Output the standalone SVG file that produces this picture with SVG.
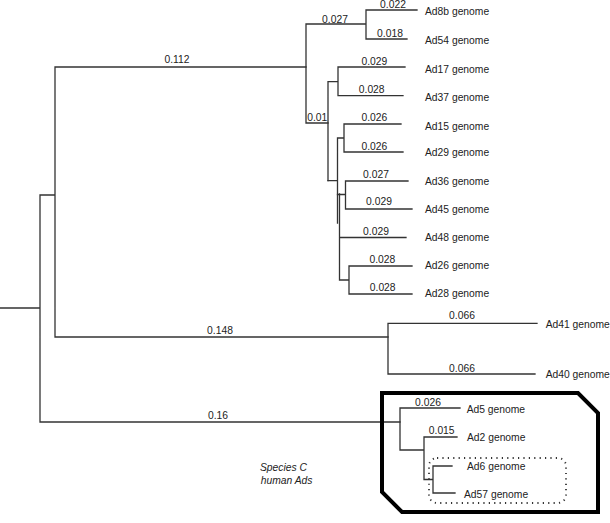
<svg xmlns="http://www.w3.org/2000/svg" width="610" height="523" viewBox="0 0 610 523">
<style>
.e{fill:none;stroke:#333;stroke-width:1.3;stroke-linecap:square}
text{font-family:"Liberation Sans",Arial,sans-serif;font-size:10.3px;fill:#222}
.n{text-anchor:middle}
.it{font-style:italic}
</style>
<rect width="610" height="523" fill="#fff"/>
<g id="connectors" class="e">
<path d="M0,308H40M40,195V422M40,195H55M55,67V337M55,67H306M55,337H388M40,422H400"/>
<path d="M306,24V123M306,24H366M306,123H328M366,10V39M366,10H417M366,39H407"/>
<path d="M328,81.7V180.7M328,81.7H338M338,67V95.7M338,67H405M338,95.7H403"/>
<path d="M328,180.7H337.5M337.5,138V223M337.5,138H344M344,124V152M344,124H401M344,152H403"/>
<path d="M337.5,194.5H345.5M345.5,181V209M345.5,181H408M345.5,209H412"/>
<path d="M339.5,194V280M339.5,237.5H406M339.5,280H349M349,266V294M349,266H412M349,294H412"/>
<path d="M388,323.3V374M388,323.3H537M388,374H535"/>
<path d="M400,408V450M400,408H460M400,450H424M424,437V479.5M424,437H457M424,479.5H433M433,466V493M433,466H452M433,493H455"/>
</g>
<g id="speciesC-box">
<path d="M382,393H578L598,413V512H402L382,492Z" fill="none" stroke="#000" stroke-width="4" stroke-linejoin="miter"/>
<rect x="429" y="458" width="137" height="45" rx="8" fill="none" stroke="#333" stroke-width="1.8" stroke-dasharray="1.2 4.2"/>
</g>
<g id="branch-labels">
<text class="n" x="177" y="63">0.112</text>
<text class="n" x="220" y="334">0.148</text>
<text class="n" x="218" y="418.7">0.16</text>
<text class="n" x="335" y="22.7">0.027</text>
<text class="n" x="393" y="8.4">0.022</text>
<text class="n" x="390" y="36.7">0.018</text>
<text class="n" x="374.3" y="65.4">0.029</text>
<text class="n" x="371.7" y="93">0.028</text>
<text class="n" x="317.3" y="121">0.01</text>
<text class="n" x="374.3" y="121">0.026</text>
<text class="n" x="374.3" y="149.7">0.026</text>
<text class="n" x="376" y="177.7">0.027</text>
<text class="n" x="379" y="205.4">0.029</text>
<text class="n" x="376" y="234.7">0.029</text>
<text class="n" x="382.3" y="263">0.028</text>
<text class="n" x="382.7" y="291.4">0.028</text>
<text class="n" x="462" y="319.4">0.066</text>
<text class="n" x="462" y="371.7">0.066</text>
<text class="n" x="428" y="406">0.026</text>
<text class="n" x="441.7" y="433.7">0.015</text>
</g>
<g id="Ad8b"><text x="425" y="14.7">Ad8b genome</text></g>
<g id="Ad54"><text x="425" y="43.7">Ad54 genome</text></g>
<g id="Ad17"><text x="425" y="72.7">Ad17 genome</text></g>
<g id="Ad37"><text x="425" y="101.4">Ad37 genome</text></g>
<g id="Ad15"><text x="425" y="129.7">Ad15 genome</text></g>
<g id="Ad29"><text x="425" y="156">Ad29 genome</text></g>
<g id="Ad36"><text x="425" y="185.4">Ad36 genome</text></g>
<g id="Ad45"><text x="425" y="212.7">Ad45 genome</text></g>
<g id="Ad48"><text x="425" y="241">Ad48 genome</text></g>
<g id="Ad26"><text x="425" y="269.4">Ad26 genome</text></g>
<g id="Ad28"><text x="425" y="297">Ad28 genome</text></g>
<g id="Ad41"><text x="545.7" y="328">Ad41 genome</text></g>
<g id="Ad40"><text x="545.7" y="378">Ad40 genome</text></g>
<g id="Ad5"><text x="466.7" y="412.7">Ad5 genome</text></g>
<g id="Ad2"><text x="467" y="440.7">Ad2 genome</text></g>
<g id="Ad6"><text x="467" y="470.4">Ad6 genome</text></g>
<g id="Ad57"><text x="464" y="497.7">Ad57 genome</text></g>
<g id="speciesC-label">
<text class="it" x="260" y="470.7">Species C</text>
<text class="it" x="260.7" y="484.3">human Ads</text>
</g>
</svg>
